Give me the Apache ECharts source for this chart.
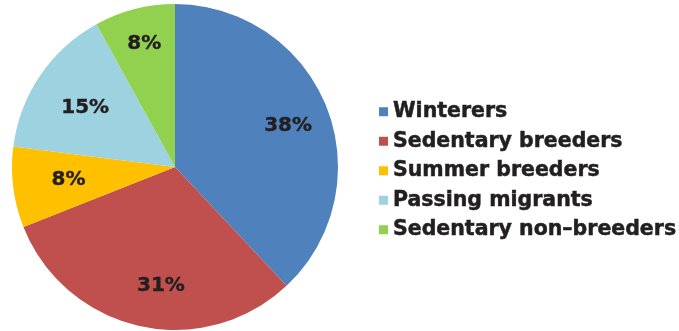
<!DOCTYPE html>
<html>
<head>
<meta charset="utf-8">
<script src="https://cdn.jsdelivr.net/npm/echarts@6/dist/echarts.min.js"></script>
<style>
  html, body { margin: 0; padding: 0; background: #fff; }
  #chart { width: 679px; height: 331px; }
</style>
</head>
<body>
<div id="chart"></div>
<script>
// Bird status categories and their share of species (%)
const categories = ['Winterers', 'Sedentary breeders', 'Summer breeders', 'Passing migrants', 'Sedentary non\u2013breeders'];
const shares = [38, 31, 8, 15, 8];
const colors = ['#4F81BD', '#C0504D', '#FFC000', '#9DD2E0', '#92D050'];
// small nudges for each percentage label, in pixels
const labelNudge = [[2, 3], [12, 2], [12, -2], [9, 8], [-1, -7]];

const textColor = '#231F20';
const pieData = categories.map((name, i) => ({ name, value: shares[i], itemStyle: { color: colors[i] } }));
const labelData = categories.map((name, i) => ({ name, value: shares[i], label: { offset: labelNudge[i] } }));

const chart = echarts.init(document.getElementById('chart'), null, { renderer: 'canvas' });
chart.setOption({
  animation: false,
  backgroundColor: '#ffffff',
  legend: {
    orient: 'vertical',
    left: 374,
    top: 96,
    itemWidth: 9,
    itemHeight: 9,
    itemGap: 8,
    icon: 'rect',
    data: categories,
    textStyle: {
      fontFamily: 'DejaVu Sans',
      fontWeight: 'bold',
      fontSize: 20.5,
      lineHeight: 21,
      color: textColor,
      textBorderColor: textColor,
      textBorderWidth: 0.5
    }
  },
  series: [
    {
      type: 'pie',
      center: [175, 167],
      radius: [0, 163],
      startAngle: 90,
      clockwise: true,
      silent: true,
      label: { show: false },
      labelLine: { show: false },
      itemStyle: { borderWidth: 0 },
      data: pieData
    },
    {
      // transparent ring that only carries the percentage labels
      type: 'pie',
      center: [175, 167],
      radius: [70, 163],
      startAngle: 90,
      clockwise: true,
      silent: true,
      itemStyle: { color: 'rgba(0,0,0,0)', borderWidth: 0 },
      labelLine: { show: false },
      label: {
        show: true,
        position: 'inside',
        formatter: '{c}%',
        fontFamily: 'DejaVu Sans',
        fontWeight: 'bold',
        fontSize: 20,
        color: textColor,
        textBorderColor: textColor,
        textBorderWidth: 0.4
      },
      data: labelData
    }
  ]
});
</script>
</body>
</html>
